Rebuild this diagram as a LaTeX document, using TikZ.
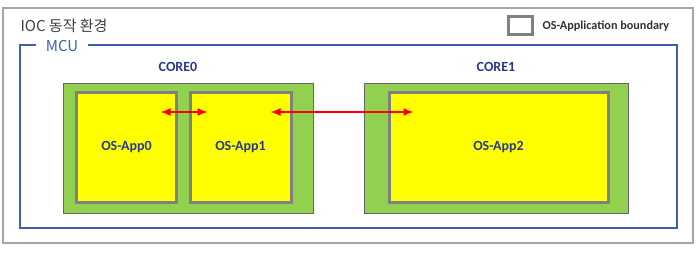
\documentclass[tikz,border=0pt]{standalone}
\usepackage{fontspec}
\setmainfont{Carlito}
\newfontfamily\kr{Noto Sans CJK KR}
\newfontfamily\lblfont{Carlito}[UprightFont=* Bold]
\usetikzlibrary{arrows.meta,shadows}
\definecolor{coregreen}{HTML}{92D050}
\definecolor{appyellow}{HTML}{FFFF00}
\definecolor{appgray}{HTML}{808080}
\definecolor{mcublue}{HTML}{3F5FB0}
\definecolor{labelblue}{HTML}{2A3A8A}
\definecolor{outergray}{HTML}{A6A6A6}
\tikzset{
  outerbox/.style={draw=outergray, line width=1.2pt, fill=white},
  mcubox/.style={draw=mcublue, line width=1.2pt},
  corebox/.style={draw=black!60, line width=0.8pt, fill=coregreen, drop shadow={shadow xshift=1pt, shadow yshift=-1pt, opacity=0.25}},
  appbox/.style={draw=appgray, line width=3pt, fill=appyellow, drop shadow={shadow xshift=1pt, shadow yshift=-1pt, opacity=0.3}},
  lbl/.style={font=\lblfont\fontsize{14}{16}\selectfont, text=labelblue},
  ipc/.style={draw=red, line width=1.4pt, {Latex[length=10pt,width=8pt]}-{Latex[length=10pt,width=8pt]}}
}
\begin{document}
\begin{tikzpicture}[x=1pt,y=-1pt]
\useasboundingbox (0,0) rectangle (696,252);
% outer environment
\draw[outerbox] (3,8) rectangle (693,243);
\node[anchor=west, font=\kr\fontsize{15}{17}\selectfont, text=black!75] (env) at (17,26) {IOC 동작 환경};
% legend
\node[draw=appgray, line width=3pt, minimum width=24pt, minimum height=18pt, inner sep=0pt] (leg) at (520,25) {};
\node[anchor=west, font=\lblfont\fontsize{12.2}{14}\selectfont, text=black!80] (legt) at (539,26) {OS-Application boundary};
% MCU box with gap for label
\draw[mcubox] (36,45) -- (20,45) -- (20,228) -- (677,228) -- (677,45) -- (88,45);
\node[font=\kr\fontsize{15}{17}\selectfont, text=mcublue] (mcu) at (62,46) {MCU};
% cores
\node[lbl] (c0lbl) at (178,67) {CORE0};
\node[lbl] (c1lbl) at (496,67) {CORE1};
\path[corebox] (63,83) rectangle (313,213);
\path[corebox] (364,83) rectangle (628,213);
% apps
\node[appbox, minimum width=100pt, minimum height=110pt, inner sep=0pt] (app0) at (126.5,147) {};
\node[appbox, minimum width=101pt, minimum height=110pt, inner sep=0pt] (app1) at (240.5,147) {};
\node[appbox, minimum width=219pt, minimum height=110pt, inner sep=0pt] (app2) at (498.5,147) {};
\node[lbl] (t0) at (app0) {OS-App0};
\node[lbl] (t1) at (app1) {OS-App1};
\node[lbl] (t2) at (app2) {OS-App2};
% IPC arrows
\coordinate (a0) at ([xshift=34pt]app0.north |- 0,112);
\coordinate (a1) at ([xshift=-33pt]app1.north |- 0,112);
\coordinate (a2) at ([xshift=30pt]app1.north |- 0,112);
\coordinate (a3) at ([xshift=-85pt]app2.north |- 0,112);
\draw[ipc] (a0) -- (a1);
\draw[ipc] (a2) -- (a3);
\end{tikzpicture}
\end{document}
